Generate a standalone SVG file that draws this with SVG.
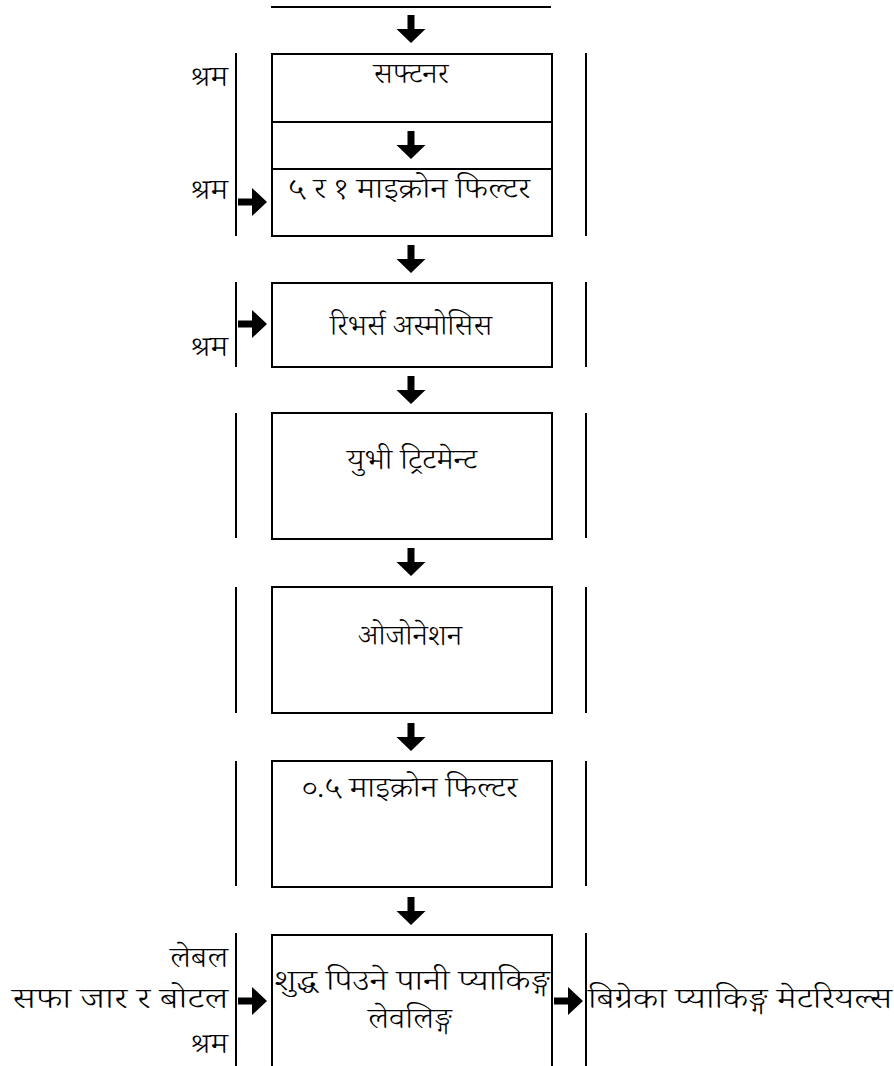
<svg xmlns="http://www.w3.org/2000/svg" width="894" height="1066" viewBox="0 0 894 1066">
<style>
.box{fill:#fff;stroke:#000;stroke-width:2}
.side{stroke:#000;stroke-width:2;fill:none}
.t{font-family:"Noto Serif Devanagari","Noto Sans Devanagari","Noto Sans",sans-serif;font-size:28px;font-weight:300;fill:#000}
.c{text-anchor:middle}
.r{text-anchor:end}
</style>
<defs>
<path id="ad" d="M-3.5,0 H3.5 V14 H14.5 L0,28 L-14.5,14 H-3.5 Z" fill="#000"/>
<path id="ar" d="M0,-3.5 H14 V-14 L29,0 L14,14 V3.5 H0 Z" fill="#000"/>
</defs>
<rect width="894" height="1066" fill="#fff"/>
<g id="connectors">
<line x1="271" y1="7" x2="551" y2="7" class="side"/>
<use href="#ad" x="411" y="15"/>
<use href="#ad" x="411" y="245"/>
<use href="#ad" x="411" y="376"/>
<use href="#ad" x="411" y="548"/>
<use href="#ad" x="411" y="723"/>
<use href="#ad" x="411" y="897"/>
<use href="#ar" x="238" y="202"/>
<use href="#ar" x="238" y="324"/>
<use href="#ar" x="238" y="1001"/>
<use href="#ar" x="554" y="1001"/>
<line x1="236" y1="53" x2="236" y2="236" class="side"/>
<line x1="586" y1="53" x2="586" y2="236" class="side"/>
<line x1="236" y1="282" x2="236" y2="367" class="side"/>
<line x1="586" y1="282" x2="586" y2="367" class="side"/>
<line x1="236" y1="413" x2="236" y2="538" class="side"/>
<line x1="586" y1="413" x2="586" y2="538" class="side"/>
<line x1="236" y1="587" x2="236" y2="713" class="side"/>
<line x1="586" y1="587" x2="586" y2="713" class="side"/>
<line x1="236" y1="761" x2="236" y2="886" class="side"/>
<line x1="586" y1="761" x2="586" y2="886" class="side"/>
<line x1="236" y1="933" x2="236" y2="1066" class="side"/>
<line x1="586" y1="933" x2="586" y2="1066" class="side"/>
</g>
<g id="softener">
<rect class="box" x="272" y="54" width="280" height="68"/>
<text class="t c" x="411" y="83" textLength="75" lengthAdjust="spacingAndGlyphs">सफ्टनर</text>
</g>
<g id="gap">
<rect class="box" x="272" y="122" width="280" height="47"/>
<use href="#ad" x="411" y="131"/>
</g>
<g id="micron-filter">
<rect class="box" x="272" y="169" width="280" height="67"/>
<text class="t c" x="409" y="198" textLength="242" lengthAdjust="spacingAndGlyphs">५ र १ माइक्रोन फिल्टर</text>
</g>
<g id="ro">
<rect class="box" x="272" y="283" width="280" height="84"/>
<text class="t c" x="411" y="335" textLength="162" lengthAdjust="spacingAndGlyphs">रिभर्स अस्मोसिस</text>
</g>
<g id="uv">
<rect class="box" x="272" y="413" width="280" height="126"/>
<text class="t c" x="412" y="469" textLength="130" lengthAdjust="spacingAndGlyphs">युभी ट्रिटमेन्ट</text>
</g>
<g id="ozone">
<rect class="box" x="272" y="587" width="280" height="126"/>
<text class="t c" x="410" y="645" textLength="104" lengthAdjust="spacingAndGlyphs">ओजोनेशन</text>
</g>
<g id="fine-filter">
<rect class="box" x="272" y="761" width="280" height="126"/>
<text class="t c" x="410" y="797" textLength="215" lengthAdjust="spacingAndGlyphs">०.५ माइक्रोन फिल्टर</text>
</g>
<g id="packing">
<rect class="box" x="272" y="935" width="280" height="140"/>
<text class="t c" x="412" y="990" textLength="276" lengthAdjust="spacingAndGlyphs">शुद्ध पिउने पानी प्याकिङ्ग</text>
<text class="t c" x="410" y="1028" textLength="84" lengthAdjust="spacingAndGlyphs">लेवलिङ्ग</text>
</g>
<g id="labels">
<text class="t r" x="228" y="86" textLength="38" lengthAdjust="spacingAndGlyphs">श्रम</text>
<text class="t r" x="228" y="199" textLength="38" lengthAdjust="spacingAndGlyphs">श्रम</text>
<text class="t r" x="228" y="356" textLength="38" lengthAdjust="spacingAndGlyphs">श्रम</text>
<text class="t r" x="228" y="967" textLength="58" lengthAdjust="spacingAndGlyphs">लेबल</text>
<text class="t r" x="228" y="1008" textLength="216" lengthAdjust="spacingAndGlyphs">सफा जार र बोटल</text>
<text class="t r" x="228" y="1053" textLength="38" lengthAdjust="spacingAndGlyphs">श्रम</text>
<text class="t" x="588" y="1008" textLength="304" lengthAdjust="spacingAndGlyphs">बिग्रेका प्याकिङ्ग मेटरियल्स</text>
</g>
</svg>
